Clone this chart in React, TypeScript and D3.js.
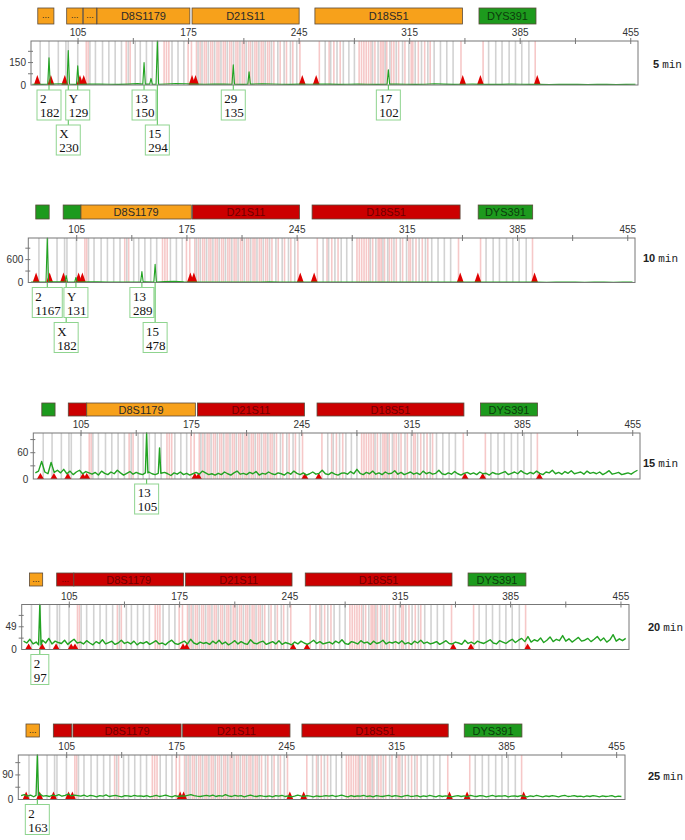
import React from 'react';
import * as d3 from 'd3';

// axis ticks (bp) and the labelled y tick of each run
const xTicks = [105, 175, 245, 315, 385, 455];
const xMinorTicks = [140, 210, 280, 350, 420];
const runMinutes = ['5', '10', '15', '20', '25'];
const yLabelTicks = [150, 600, 60, 49, 90];

// allele bins (grey) and virtual bins (pink), in bp
const grayBins = [81, 86.6, 92.5, 97.3, 98.8, 104.8, 112.5, 116, 120.5, 124.5, 128.5, 132.5, 136.8, 141.2, 144.4,
  148.3, 152, 155.8, 164.5, 168.3, 172, 181, 183.5, 187.5, 191.5, 195.5, 199.5, 203.5, 207.5, 211.5, 215.5, 219.5,
  223.5, 227.5, 231.5, 235.5, 239.5, 243.5, 261.5, 265, 269, 273, 276.5, 280, 291.5, 295, 299.5, 302.5, 306.5,
  310.5, 314.5, 318.5, 322.5, 326.5, 330.5, 334.5, 338.5, 342.5, 365, 369.5, 373.5, 378, 382, 386, 390.5];
const pinkBins = [110.2, 111.4, 135.5, 138, 159.5, 161, 162.5, 174.7, 176.8, 180, 182.3, 185, 186.2, 189, 190.2, 193,
  194.2, 197, 198.2, 201, 202.2, 205, 206.2, 209, 210.2, 213, 214.2, 217, 218.2, 221, 222.2, 225, 226.2, 229, 233,
  237, 241, 245.5, 257.8, 264, 267, 271, 283, 284.5, 286, 287.5, 289, 290.5, 293, 296.5, 297.5, 298.5, 300.5, 303.5,
  305, 308, 312, 316, 317, 320.5, 324.5, 328, 347.5, 361.5, 394.5];

// size standard peaks (red triangles)
const ladderPeaks = [79.2, 87.8, 96.6, 106.2, 108.6, 177.2, 179.4, 247, 255.8, 348.6, 359.8, 395.8];

// called peaks per run
const peaks1 = [
  { bp: 86.6, h: 182, allele: '2' }, { bp: 98.8, h: 230, allele: 'X' }, { bp: 104.8, h: 129, allele: 'Y' },
  { bp: 146.8, h: 150, allele: '13' }, { bp: 151.2, h: 44, allele: '' }, { bp: 155.2, h: 294, allele: '15' },
  { bp: 203.3, h: 135, allele: '29' }, { bp: 213.3, h: 88, allele: '' }, { bp: 301.5, h: 102, allele: '17' },
];
const peaks2 = [
  { bp: 86.3, h: 1167, allele: '2' }, { bp: 98.3, h: 182, allele: 'X' }, { bp: 104.5, h: 131, allele: 'Y' },
  { bp: 146.4, h: 289, allele: '13' }, { bp: 154.8, h: 478, allele: '15' },
];
const peaks3 = [{ bp: 146.6, h: 105, allele: '13' }, { bp: 154.8, h: 71, allele: '' }];
const peaks4 = [{ bp: 86.3, h: 97, allele: '2' }];
const peaks5 = [{ bp: 86.3, h: 163, allele: '2' }];

// baseline signal, sampled evenly from 76 to 458 bp
const gridStart = 76;
const gridEnd = 458;
const noise1 = [5, 4, 6, 8, 5, 4, 6, 7, 5, 4, 6, 9, 6, 5, 7, 10, 8, 6, 5, 7, 6, 5, 4, 6, 8, 7, 5, 4, 6, 5, 7, 6, 4, 5, 6, 5,
  4, 6, 7, 5, 4, 5, 8, 6, 4, 5, 6, 4, 5, 4, 6, 5, 4, 5, 3, 4, 5, 4, 3, 5, 4, 3, 4, 5];
const noise2 = [15, 12, 18, 20, 14, 12, 16, 18, 14, 12, 10, 14, 16, 12, 25, 30, 18, 14, 12, 15, 13, 12, 10, 12, 14, 16, 12,
  10, 12, 11, 13, 12, 10, 11, 12, 10, 9, 11, 12, 10, 9, 10, 12, 11, 9, 10, 11, 9, 10, 9, 11, 10, 9, 10, 8, 9, 10, 9, 8,
  10, 9, 8, 9, 10];
const noise3 = [14, 18, 40, 16, 12, 38, 15, 20, 14, 22, 12, 18, 10, 16, 20, 12, 17, 14,
  11, 15, 9, 18, 13, 10, 16, 12, 20, 14, 9, 13, 17, 11, 15, 12, 10, 14, 16, 12,
  10, 13, 9, 15, 12, 8, 14, 11, 16, 10, 13, 9, 12, 15, 11, 18, 14, 10, 12, 9,
  13, 10, 16, 12, 9, 14, 18, 11, 13, 10, 15, 12, 17, 9, 13, 11, 16, 12, 10, 14,
  12, 9, 15, 11, 18, 13, 10, 14, 9, 12, 16, 11, 13, 20, 12, 10, 15, 11, 9, 13,
  14, 11, 17, 12, 22, 13, 10, 15, 12, 18, 11, 14, 10, 16, 12, 13, 19, 11, 15, 10,
  13, 16, 11, 14, 10, 18, 12, 15, 11, 13, 20, 12, 10, 14, 11, 17, 12, 9, 13, 15,
  11, 14, 10, 16, 12, 13, 9, 15, 12, 11, 14, 17, 10, 13, 16, 12, 19, 14, 11, 15,
  12, 18, 13, 10, 16, 14, 20, 12, 15, 11, 17, 13, 19, 12, 14, 16, 11, 18, 13, 15,
  12, 16, 10, 14, 19, 11, 13, 15, 10, 12, 14, 11, 16, 20];
const noise4 = [18, 14, 22, 12, 16, 10, 20, 14, 24, 12, 18, 15, 13, 20, 11, 17, 22, 14,
  16, 12, 19, 14, 10, 17, 13, 21, 12, 15, 18, 11, 14, 20, 13, 16, 12, 18, 10, 15,
  13, 17, 11, 15, 19, 12, 14, 10, 16, 20, 13, 11, 15, 18, 12, 22, 14, 11, 16, 13,
  15, 11, 18, 13, 20, 12, 16, 10, 14, 19, 12, 17, 13, 11, 21, 14, 12, 16, 18, 11,
  14, 17, 12, 19, 11, 15, 13, 10, 16, 12, 18, 14, 11, 15, 20, 13, 17, 12, 14, 16,
  12, 18, 14, 21, 13, 11, 17, 15, 12, 19, 14, 16, 11, 18, 13, 15, 20, 12, 16, 14,
  17, 13, 19, 12, 15, 11, 18, 14, 20, 13, 16, 12, 14, 17, 11, 15, 19, 13, 12, 16,
  14, 11, 20, 13, 16, 12, 18, 15, 13, 17, 21, 14, 12, 19, 16, 13, 18, 22, 15, 20,
  24, 17, 28, 16, 21, 18, 25, 15, 20, 27, 17, 22, 19, 30, 18, 23, 16, 21, 26, 18,
  20, 24, 17, 22, 28, 19, 25, 16, 21, 32, 18, 23, 19, 24];
const noise5 = [14, 18, 12, 16, 10, 15, 20, 12, 14, 11, 16, 13, 18, 12, 15, 20, 13, 16,
  14, 12, 16, 11, 15, 13, 10, 14, 12, 17, 11, 13, 15, 12, 10, 14, 13, 11, 15, 12,
  13, 11, 14, 10, 12, 15, 11, 13, 16, 12, 10, 14, 11, 13, 12, 15, 18, 14, 12, 11,
  13, 15, 12, 16, 11, 14, 12, 18, 13, 11, 15, 12, 14, 10, 13, 16, 12, 11, 14, 12,
  11, 13, 10, 14, 12, 15, 11, 13, 10, 12, 16, 13, 11, 14, 12, 10, 13, 11, 12, 14,
  12, 15, 11, 13, 16, 12, 10, 14, 11, 13, 12, 15, 11, 13, 10, 14, 12, 11, 13, 15,
  11, 14, 12, 10, 13, 15, 11, 12, 14, 10, 13, 11, 15, 12, 10, 14, 11, 13, 12, 10,
  12, 14, 11, 13, 10, 15, 12, 11, 14, 13, 10, 12, 15, 11, 13, 12, 14, 10, 12, 13,
  11, 14, 12, 10, 13, 11, 15, 12, 10, 13, 11, 14, 12, 10, 13, 15, 11, 12, 14, 11,
  12, 10, 13, 11, 14, 12, 10, 13, 11, 12, 14, 10, 12, 11];

// locus bars above each run: o = orange, r = red, g = green
const markers1 = [
  { from: 79.5, to: 89.7, name: '...', kind: 'o' }, { from: 97.8, to: 108, name: '...', kind: 'o' },
  { from: 108.3, to: 116.8, name: '...', kind: 'o' }, { from: 117, to: 175.8, name: 'D8S1179', kind: 'o' },
  { from: 177.2, to: 245, name: 'D21S11', kind: 'o' }, { from: 255, to: 348.4, name: 'D18S51', kind: 'o' },
  { from: 358.9, to: 395, name: 'DYS391', kind: 'g' },
];
const markers2 = [
  { from: 79, to: 87.5, name: '', kind: 'g' }, { from: 96.4, to: 107.7, name: '', kind: 'g' },
  { from: 107.7, to: 177.8, name: 'D8S1179', kind: 'o' }, { from: 178.5, to: 246.5, name: 'D21S11', kind: 'r' },
  { from: 254.5, to: 348.5, name: 'D18S51', kind: 'r' }, { from: 360, to: 394.6, name: 'DYS391', kind: 'g' },
];
const markers3 = [
  { from: 80.1, to: 88.5, name: '', kind: 'g' }, { from: 96.9, to: 108.6, name: '', kind: 'r' },
  { from: 108.6, to: 177.5, name: 'D8S1179', kind: 'o' }, { from: 178.8, to: 246.7, name: 'D21S11', kind: 'r' },
  { from: 254.7, to: 347.9, name: 'D18S51', kind: 'r' }, { from: 358.4, to: 394.6, name: 'DYS391', kind: 'g' },
];
const markers4 = [
  { from: 79.7, to: 88.1, name: '...', kind: 'o' }, { from: 97, to: 107.9, name: '...', kind: 'r' },
  { from: 107.9, to: 177.5, name: 'D8S1179', kind: 'r' }, { from: 178.6, to: 246.3, name: 'D21S11', kind: 'r' },
  { from: 254.7, to: 347.8, name: 'D18S51', kind: 'r' }, { from: 358, to: 394.7, name: 'DYS391', kind: 'g' },
];
const markers5 = [
  { from: 79.1, to: 87.6, name: '...', kind: 'o' }, { from: 96.5, to: 108.2, name: '', kind: 'r' },
  { from: 109, to: 177.8, name: 'D8S1179', kind: 'r' }, { from: 178.8, to: 247.1, name: 'D21S11', kind: 'r' },
  { from: 254.7, to: 347.8, name: 'D18S51', kind: 'r' }, { from: 358, to: 394.7, name: 'DYS391', kind: 'g' },
];

const runPeaks = [peaks1, peaks2, peaks3, peaks4, peaks5];
const runNoise = [noise1, noise2, noise3, noise4, noise5];
const runMarkers = [markers1, markers2, markers3, markers4, markers5];

// page geometry of each panel
const layouts = [
  { left: 31, right: 638, top: 41, bottom: 85, barTop: 8, barH: 16, d0: 75.2, d1: 459.6, triH: 10, minX: 653, minY: 68, lw: 1.1 },
  { left: 28.3, right: 635, top: 238, bottom: 282.5, barTop: 205, barH: 14, d0: 74.25, d1: 459.6, triH: 10, minX: 643, minY: 262, lw: 1.1 },
  { left: 33.3, right: 640, top: 433, bottom: 479, barTop: 403, barH: 13, d0: 74.7, d1: 459.6, triH: 6, minX: 643, minY: 467, lw: 1.4 },
  { left: 21.7, right: 629, top: 604.5, bottom: 649.5, barTop: 573, barH: 13, d0: 74.8, d1: 460.1, triH: 6, minX: 648, minY: 631, lw: 1.4 },
  { left: 18.3, right: 625, top: 755, bottom: 799.5, barTop: 724, barH: 13, d0: 74.2, d1: 460.3, triH: 8, minX: 648, minY: 780, lw: 1.3 },
];

const fills = { o: '#f7a11b', r: '#cc0000', g: '#1d9a1d' };
const inks = { o: '#2a2a2a', r: '#6e0000', g: '#0c3a0c' };
const sans = 'Liberation Sans, Arial, sans-serif';
const serif = 'Liberation Serif, Times New Roman, serif';

function tracePoints(noise, peaks) {
  const step = (gridEnd - gridStart) / (noise.length - 1);
  const pts = noise
    .map((v, i) => [gridStart + i * step, v])
    .filter(([bp]) => !peaks.some((p) => Math.abs(p.bp - bp) < 1.3));
  peaks.forEach((p) => {
    const i = Math.round((p.bp - gridStart) / step);
    const b = noise[Math.max(0, Math.min(noise.length - 1, i))];
    pts.push([p.bp - 0.8, b], [p.bp, p.h], [p.bp + 0.8, b]);
  });
  return pts.sort((a, b) => a[0] - b[0]);
}

const Panel = ({ idx }) => {
  const L = layouts[idx];
  const peaks = runPeaks[idx];
  const yMax = d3.max(peaks, (p) => p.h);
  const x = d3.scaleLinear().domain([L.d0, L.d1]).range([L.left, L.right]);
  const y = d3.scaleLinear().domain([0, yMax]).range([L.bottom, L.top]);
  const yt = yLabelTicks[idx];
  const line = d3.line().x((d) => x(d[0])).y((d) => y(d[1]));
  const pts = tracePoints(runNoise[idx], peaks);

  // label boxes below the baseline, pushed to a second row when they collide
  const rowEnds = [-Infinity, -Infinity];
  const boxes = peaks
    .filter((p) => p.allele)
    .sort((a, b) => a.bp - b.bp)
    .map((p) => {
      const w = 6 * Math.max(p.allele.length, String(p.h).length) + 6;
      const cx = x(p.bp);
      const x0 = cx - w / 2;
      const row = x0 > rowEnds[0] + 1 ? 0 : 1;
      rowEnds[row] = x0 + w;
      return { p, cx, x0, w, top: L.bottom + 5 + row * 35 };
    });

  return (
    <g>
      {runMarkers[idx].map((m, i) => (
        <g key={'m' + i}>
          <rect x={x(m.from)} y={L.barTop} width={x(m.to) - x(m.from)} height={L.barH}
            fill={fills[m.kind]} stroke="#5a4a3a" strokeWidth={0.8} />
          {m.name && (
            <text x={(x(m.from) + x(m.to)) / 2} y={L.barTop + L.barH / 2 + (m.name === '...' ? 2 : 4)}
              textAnchor="middle" fontFamily={sans} fontSize={m.name === '...' ? 9 : 11} fill={inks[m.kind]}>
              {m.name}
            </text>
          )}
        </g>
      ))}

      {xTicks.map((t) => (
        <text key={'xt' + t} x={x(t)} y={L.top - 5} textAnchor="middle" fontFamily={sans} fontSize={10} fill="#333">
          {t}
        </text>
      ))}

      <rect x={L.left} y={L.top} width={L.right - L.left} height={L.bottom - L.top} fill="#fff" />

      {pinkBins.map((b, i) => (
        <line key={'pb' + i} x1={x(b)} x2={x(b)} y1={L.top} y2={L.bottom} stroke="#f6c8c8" strokeWidth={1.6} />
      ))}
      {grayBins.map((b, i) => (
        <line key={'gb' + i} x1={x(b)} x2={x(b)} y1={L.top} y2={L.bottom} stroke="#d2d2d2" strokeWidth={1.6} />
      ))}

      {ladderPeaks.map((b, i) => (
        <path key={'lp' + i}
          d={`M${x(b) - 3.5},${L.bottom} L${x(b)},${L.bottom - L.triH} L${x(b) + 3.5},${L.bottom} Z`}
          fill="#e00000" />
      ))}

      <path d={line(pts)} fill="none" stroke="#22a322" strokeWidth={L.lw} strokeLinejoin="round" />

      <rect x={L.left} y={L.top} width={L.right - L.left} height={L.bottom - L.top}
        fill="none" stroke="#777" strokeWidth={1} />

      {xTicks.concat(xMinorTicks).map((t) => (
        <line key={'xk' + t} x1={x(t)} x2={x(t)} y1={L.top - 3} y2={L.top + 3} stroke="#777" />
      ))}
      {[yt / 2, yt, yt * 1.5].filter((v) => v < yMax).map((v) => (
        <line key={'yk' + v} x1={L.left - 3} x2={L.left + 2} y1={y(v)} y2={y(v)} stroke="#777" />
      ))}
      {[0, yt].map((v) => (
        <text key={'yl' + v} x={L.left - 5} y={y(v) + 3.5} textAnchor="end" fontFamily={sans} fontSize={10} fill="#333">
          {v}
        </text>
      ))}

      {boxes.map((b, i) => (
        <g key={'lb' + i}>
          <line x1={b.cx} x2={b.cx} y1={L.bottom} y2={b.top} stroke="#4fbf4f" strokeWidth={1} />
          <rect x={b.x0} y={b.top} width={b.w} height={30} fill="#fff" stroke="#8fd48f" strokeWidth={1} />
          <text x={b.x0 + 3} y={b.top + 13} fontFamily={serif} fontSize={13} fill="#111">{b.p.allele}</text>
          <text x={b.x0 + 3} y={b.top + 27} fontFamily={serif} fontSize={13} fill="#111">{b.p.h}</text>
        </g>
      ))}

      <text x={L.minX} y={L.minY} fontSize={11} fill="#222">
        <tspan fontFamily={sans} fontWeight="bold">{runMinutes[idx]}</tspan>
        <tspan fontFamily="Liberation Mono, monospace" dx={3}>min</tspan>
      </text>
    </g>
  );
};

export default function App() {
  return (
    <svg width={685} height={840} style={{ position: 'absolute', left: 0, top: 0, background: '#fff' }}>
      {layouts.map((_, i) => <Panel key={i} idx={i} />)}
    </svg>
  );
}
